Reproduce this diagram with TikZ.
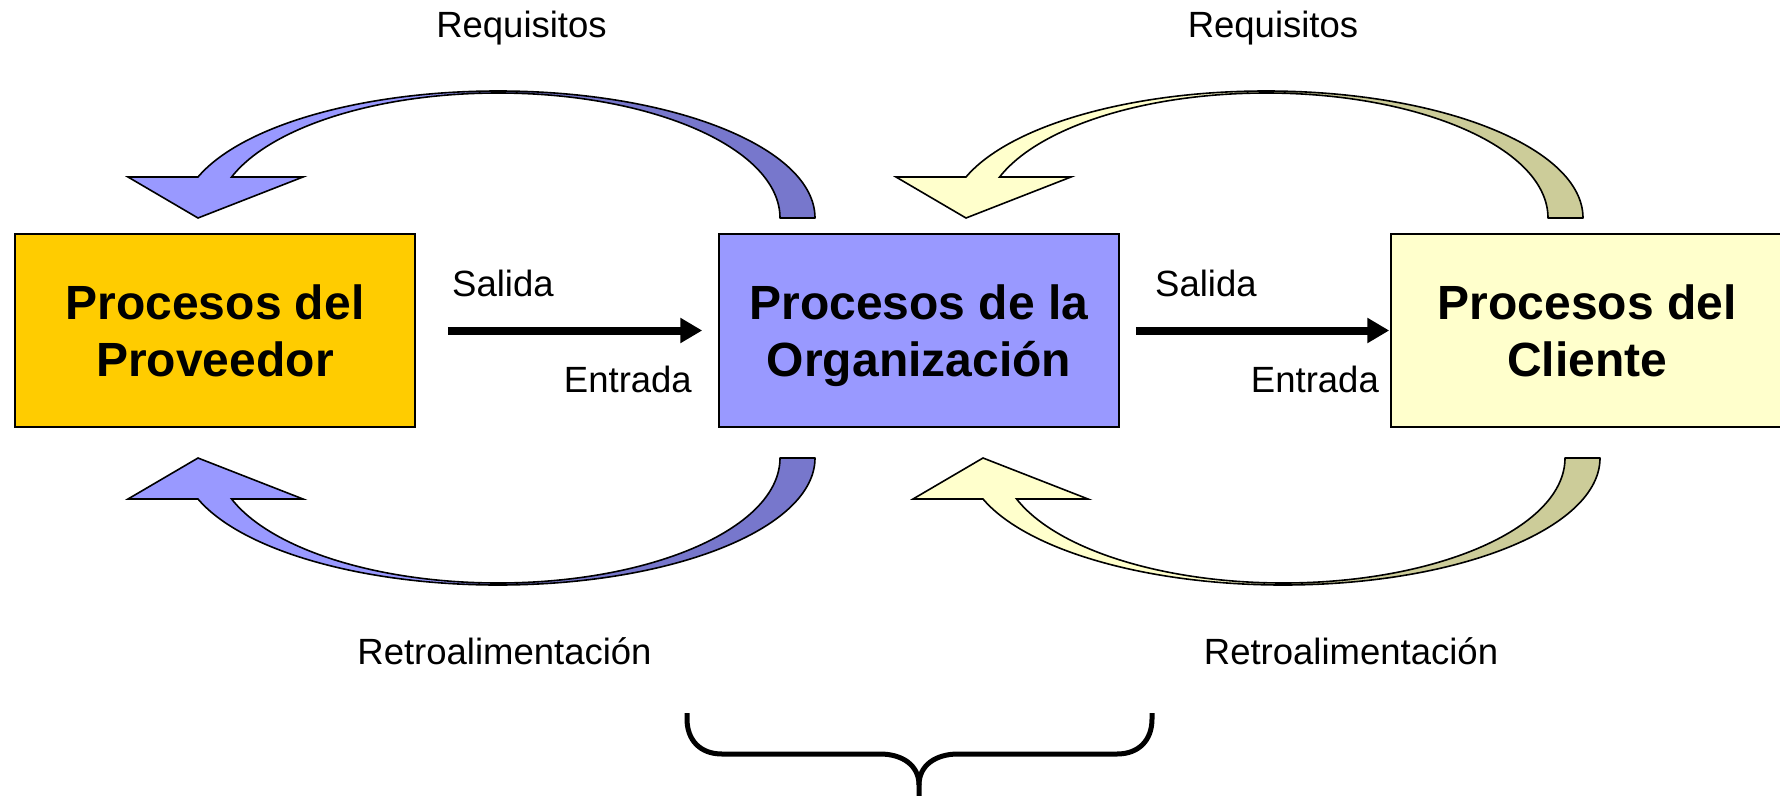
\documentclass[tikz,border=0pt]{standalone}
\usepackage{fontspec}
\setmainfont{Liberation Sans}
\usetikzlibrary{arrows.meta}
\definecolor{provfill}{HTML}{FFCC00}
\definecolor{lblue}{HTML}{9999FF}
\definecolor{dblue}{HTML}{7777CC}
\definecolor{cream}{HTML}{FFFFCC}
\definecolor{dcream}{HTML}{CCCC99}
\tikzset{
  pics/curvarrow/.style n args={2}{code={
    \filldraw[fill=#2, draw=black, line width=1.6pt, line join=round]
      (317,0) arc[start angle=0, end angle=90, x radius=317, y radius=127]
      -- (0,125) arc[start angle=90, end angle=0, x radius=282, y radius=125] -- cycle;
    \filldraw[fill=#1, draw=black, line width=1.6pt, line join=miter]
      (0,127) arc[start angle=90, end angle=161.17, x radius=317, y radius=127]
      -- (-370,41) -- (-300,0) -- (-195,41) -- (-266.4,41)
      arc[start angle=160.85, end angle=90, x radius=282, y radius=125] -- cycle;
  }}
}
\begin{document}
\begin{tikzpicture}[x=1pt,y=-1pt,
  box/.style={draw=black, line width=1.5pt, minimum width=400pt, minimum height=193pt,
    align=center, inner sep=0pt, font=\fontsize{48}{57}\selectfont\bfseries},
  lbl/.style={inner sep=0pt, font=\fontsize{36.5}{44}\selectfont},
  flow/.style={line width=8pt, -{Triangle[length=22pt,width=24pt]}},
  brace/.style={line width=5pt, line cap=butt}
]
\useasboundingbox (0,0) rectangle (1780,795);

% boxes
\node[box, fill=provfill] (prov) at (215,330.5) {Procesos del\\Proveedor};
\node[box, fill=lblue] (org) at (919,330.5) {Procesos de la\\\smash{Organización}};
\node[box, fill=cream, minimum width=392pt] (cli) at (1587,330.5) {Procesos del\\Cliente};

% straight flows
\draw[flow] ([xshift=32pt]prov.east) -- ([xshift=-16pt]org.west);
\draw[flow] ([xshift=16pt]org.east) -- ([xshift=-1pt]cli.west);

% curved arrows
\pic[yscale=-1] (reqA) at (498,218) {curvarrow={lblue}{dblue}};
\pic[yscale=-1] (reqB) at (1266,218) {curvarrow={cream}{dcream}};
\pic (retA) at (498,458) {curvarrow={lblue}{dblue}};
\pic (retB) at (1283,458) {curvarrow={cream}{dcream}};

% labels
\node[lbl, anchor=base] (req1) at (521.5,37) {Requisitos};
\node[lbl, anchor=base] (req2) at (1273,37) {Requisitos};
\node[lbl, anchor=base west] (sal1) at (452,296) {Salida};
\node[lbl, anchor=base east] (ent1) at (692,392) {Entrada};
\node[lbl, anchor=base west] (sal2) at (1155,296) {Salida};
\node[lbl, anchor=base east] (ent2) at (1379,392) {Entrada};
\node[lbl, anchor=base] (ret1) at (504.5,664) {Retroalimentación};
\node[lbl, anchor=base] (ret2) at (1351,664) {Retroalimentación};

% brace
\draw[brace] (687,713) -- (687,719) .. controls (687,740) and (700,754) .. (722,754)
  -- (880,754) .. controls (902,754) and (919,765) .. (919,785) -- (919,800);
\draw[brace] (1152,713) -- (1152,719) .. controls (1152,740) and (1139,754) .. (1117,754)
  -- (958,754) .. controls (936,754) and (919,765) .. (919,785);
\end{tikzpicture}
\end{document}
